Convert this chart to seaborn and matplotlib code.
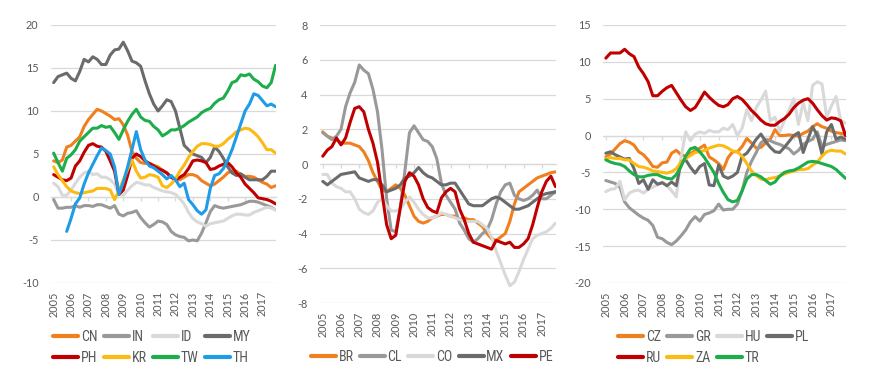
import matplotlib
matplotlib.use("Agg")
import numpy as np
import pandas as pd
import seaborn as sns
import matplotlib.pyplot as plt
from matplotlib.lines import Line2D
from matplotlib import font_manager

# ---------------- data (quarterly, starting 2005 Q1) ----------------
years = list(range(2005, 2018))

asia_names = ["CN", "IN", "ID", "MY", "PH", "KR", "TW", "TH"]
CN = [4.2, 4.0, 4.3, 5.8, 6.0, 6.5, 7.0, 8.2, 9.0, 9.6, 10.2, 10.0, 9.7, 9.4, 9.0, 9.1, 8.4, 7.2, 5.3, 4.5,
      4.0, 3.9, 3.9, 3.7, 3.5, 3.1, 2.8, 2.3, 2.0, 2.0, 2.3, 2.6, 2.6, 2.4, 1.9, 1.6, 1.3, 1.5, 1.9, 2.3,
      2.8, 3.0, 3.0, 2.6, 2.4, 2.4, 2.3, 2.0, 1.7, 1.5, 1.1, 1.3]
IN = [-0.3, -1.3, -1.3, -1.2, -1.2, -1.0, -1.2, -1.0, -1.0, -1.1, -0.9, -0.9, -1.1, -1.3, -1.0, -2.0, -2.2, -1.9, -1.8, -1.6,
      -2.4, -3.0, -3.5, -3.2, -2.8, -2.9, -3.2, -4.0, -4.4, -4.6, -4.7, -5.1, -5.0, -5.1, -4.2, -3.0, -1.7, -1.0, -1.2, -1.3,
      -1.2, -1.1, -1.0, -0.9, -0.7, -0.5, -0.5, -0.6, -0.8, -1.0, -1.2, -1.5]
ID = [1.6, 1.2, 0.2, 0.2, 0.8, 1.6, 2.3, 2.8, 3.0, 2.6, 2.7, 2.3, 2.3, 2.0, 1.5, 0.3, 0.2, 0.8, 1.3, 1.7,
      1.6, 1.4, 1.4, 1.1, 0.9, 0.7, 0.6, 0.5, 0.3, -0.2, -0.8, -1.8, -2.5, -2.9, -3.1, -3.4, -3.1, -3.0, -2.9, -2.8,
      -2.5, -2.2, -2.0, -2.0, -2.1, -2.1, -1.8, -1.6, -1.4, -1.2, -1.3, -1.5]
MY = [13.3, 14.0, 14.2, 14.4, 13.8, 13.5, 14.6, 16.0, 15.7, 16.3, 16.0, 15.4, 15.4, 16.5, 17.1, 17.2, 18.0, 17.0, 15.8, 15.6,
      15.2, 13.5, 12.0, 10.8, 10.0, 10.6, 11.3, 11.1, 10.0, 8.0, 6.0, 5.5, 5.0, 4.8, 4.6, 4.0, 4.6, 5.8, 5.3, 4.5,
      3.5, 2.8, 2.5, 2.7, 2.3, 2.0, 2.0, 2.0, 2.0, 2.4, 3.0, 3.0]
PH = [2.6, 2.3, 2.0, 1.9, 2.2, 3.6, 4.2, 5.2, 6.0, 6.2, 5.9, 5.8, 5.3, 4.2, 3.0, 0.3, 0.8, 2.5, 4.5, 5.0,
      4.7, 4.2, 3.9, 3.6, 3.3, 3.1, 2.8, 2.3, 2.0, 2.3, 2.6, 3.3, 4.2, 4.3, 4.2, 4.0, 3.2, 3.3, 3.6, 3.8,
      4.0, 3.5, 2.8, 2.3, 1.5, 1.0, 0.5, -0.1, -0.2, -0.3, -0.5, -0.8]
KR = [3.5, 2.6, 1.9, 1.2, 0.7, 0.5, 0.4, 0.5, 0.6, 0.7, 1.0, 1.0, 1.0, 0.8, -0.3, 0.7, 2.0, 3.2, 4.3, 3.0,
      2.2, 2.3, 2.6, 2.5, 2.3, 1.3, 1.1, 1.5, 2.1, 3.0, 3.7, 4.6, 5.3, 5.9, 6.2, 6.2, 6.1, 5.9, 5.9, 6.2,
      6.7, 7.1, 7.6, 7.8, 8.0, 7.9, 7.5, 7.0, 6.3, 5.5, 5.5, 5.1]
TW = [5.1, 4.0, 3.0, 4.5, 4.9, 5.5, 6.5, 7.0, 7.5, 8.0, 8.0, 8.3, 8.1, 8.2, 7.5, 6.7, 7.8, 8.8, 9.6, 10.2,
      9.3, 8.9, 8.8, 8.2, 7.8, 7.1, 7.4, 7.8, 7.8, 8.0, 8.3, 8.7, 9.0, 9.3, 9.8, 10.1, 10.3, 10.9, 11.3, 11.5,
      12.3, 13.3, 13.5, 14.2, 14.1, 14.3, 13.7, 13.4, 12.9, 12.7, 13.3, 15.3]
TH = [np.nan, np.nan, np.nan, -4.0, -2.5, -0.8, -0.1, 1.5, 2.8, 3.8, 4.8, 5.7, 5.4, 5.0, 3.5, 0.3, 1.7, 3.5, 5.5, 7.6,
      5.5, 4.3, 3.6, 3.4, 3.0, 2.6, 2.1, 2.5, 2.0, 1.2, 1.6, -0.3, -0.9, -1.6, -2.0, -1.5, 1.0, 2.5, 2.7, 3.3,
      4.3, 5.5, 7.0, 8.5, 10.0, 10.8, 12.0, 11.8, 11.2, 10.6, 10.8, 10.5]

latam_names = ["BR", "CL", "CO", "MX", "PE"]
BR = [1.85, 1.6, 1.5, 1.4, 1.2, 1.2, 1.2, 1.1, 1.0, 0.7, 0.2, -0.5, -1.0, -1.5, -1.6, -1.4, -1.2, -1.4, -1.8, -2.4,
      -3.0, -3.3, -3.4, -3.3, -3.1, -3.0, -2.9, -2.9, -3.0, -3.0, -3.2, -3.1, -3.2, -3.2, -3.4, -3.6, -4.0, -4.3, -4.4, -4.2,
      -4.0, -3.3, -2.3, -1.6, -1.4, -1.2, -1.0, -0.8, -0.7, -0.6, -0.5, -0.45]
CL = [1.8, 1.6, 1.4, 1.6, 2.0, 3.3, 4.1, 4.7, 5.7, 5.4, 5.2, 4.3, 3.0, 0.8, -2.0, -3.8, -3.9, -2.5, -0.4, 1.8,
      2.2, 1.8, 1.4, 1.3, 1.0, 0.3, -1.1, -1.8, -2.2, -2.6, -3.4, -3.8, -4.3, -4.5, -4.3, -4.0, -3.8, -3.2, -2.3, -1.6,
      -1.2, -1.1, -1.8, -2.0, -2.1, -2.0, -1.8, -1.5, -2.0, -2.0, -1.8, -1.6]
CO = [-0.6, -0.6, -1.1, -1.3, -1.4, -1.6, -1.6, -2.0, -2.6, -2.8, -2.9, -2.7, -2.2, -2.0, -2.4, -2.7, -2.7, -2.6, -2.2, -1.9,
      -2.2, -2.6, -2.9, -3.1, -3.1, -3.0, -2.8, -2.9, -3.0, -3.1, -3.2, -3.3, -3.3, -3.3, -3.3, -3.5, -3.7, -4.2, -5.0, -5.7,
      -6.4, -7.0, -6.8, -6.2, -5.5, -4.9, -4.3, -4.1, -4.0, -3.9, -3.7, -3.4]
MX = [-1.0, -1.2, -1.0, -0.8, -0.6, -0.55, -0.5, -0.45, -0.8, -0.9, -1.0, -0.9, -0.9, -1.2, -1.6, -1.5, -1.4, -1.2, -0.8, -0.7,
      -0.5, -0.2, -0.5, -0.7, -0.8, -1.0, -1.2, -1.2, -1.1, -1.1, -1.5, -1.9, -2.3, -2.4, -2.4, -2.4, -2.2, -2.0, -1.9, -2.0,
      -2.2, -2.4, -2.6, -2.6, -2.5, -2.4, -2.2, -2.0, -1.8, -1.7, -1.65, -1.6]
PE = [0.45, 0.8, 1.0, 1.5, 1.1, 1.5, 2.4, 3.2, 3.3, 3.0, 2.0, 1.2, 0.1, -1.7, -3.5, -4.3, -4.1, -2.5, -1.0, -0.5,
      -0.7, -1.2, -2.0, -2.5, -2.7, -2.8, -1.95, -1.6, -1.4, -1.6, -2.6, -3.2, -4.0, -4.5, -4.6, -4.7, -4.8, -4.9, -4.4, -4.5,
      -4.6, -4.5, -4.8, -4.8, -4.6, -4.3, -3.5, -2.5, -1.6, -1.0, -0.7, -1.3]

emea_names = ["CZ", "GR", "HU", "PL", "RU", "ZA", "TR"]
CZ = [-2.9, -2.5, -1.8, -1.1, -0.7, -0.9, -1.3, -2.2, -2.6, -3.3, -4.2, -4.3, -3.7, -3.6, -2.4, -2.0, -2.6, -2.8, -2.5, -2.0,
      -1.7, -1.3, -2.9, -3.3, -3.8, -4.6, -3.0, -2.2, -2.2, -1.5, -0.4, -1.0, -1.7, -1.6, -1.0, -0.5, 0.8, 0.0, 0.0, 0.1,
      0.0, -0.1, 0.3, 0.6, 1.2, 1.6, 1.2, 1.0, 0.6, 0.4, 0.3, 0.1]
GR = [-6.1, -6.3, -6.5, -7.0, -9.0, -9.8, -10.3, -10.8, -11.2, -11.5, -12.2, -13.8, -14.0, -14.5, -14.8, -14.3, -13.6, -12.8, -11.7, -11.0,
      -11.6, -10.7, -10.5, -10.2, -9.3, -10.1, -10.0, -10.0, -9.3, -7.5, -5.0, -3.5, -2.3, -1.0, -0.5, -0.7, -1.0, -1.2, -1.5, -1.8,
      -2.5, -2.0, -1.2, -0.8, -0.5, 0.5, -1.5, -1.2, -1.0, -0.8, -0.6, -0.7]
HU = [-7.6, -7.3, -7.2, -6.2, -8.7, -7.8, -7.5, -7.4, -7.8, -7.3, -7.0, -6.7, -6.3, -6.8, -7.5, -8.3, -3.0, 0.5, -0.7, 0.2,
      0.5, 0.3, 0.7, 0.5, 0.5, 1.0, 0.8, 1.5, 0.0, 1.0, 3.5, 2.0, 3.8, 4.8, 6.0, 2.0, 2.5, 0.5, 2.0, 3.5,
      5.0, 1.5, 4.5, 2.0, 6.8, 7.3, 7.0, 2.5, 4.0, 5.3, 2.0, 1.7]
PL = [-2.4, -2.2, -2.6, -2.9, -3.2, -3.1, -4.5, -6.5, -6.0, -7.3, -6.0, -6.6, -6.4, -6.8, -6.3, -6.8, -3.6, -3.3, -4.3, -5.1,
      -4.2, -3.8, -6.7, -6.8, -4.0, -5.5, -5.8, -5.5, -5.0, -2.8, -2.4, -1.5, -0.5, 0.2, -0.8, -1.6, -2.2, -2.3, -1.6, -0.8,
      0.0, 0.4, -2.3, -0.5, 1.2, 0.0, -2.5, 0.5, 1.5, -0.5, -0.2, -0.5]
RU = [10.5, 11.2, 11.2, 11.2, 11.7, 11.1, 10.7, 9.3, 8.4, 7.3, 5.4, 5.4, 6.0, 6.5, 6.8, 5.8, 4.8, 3.9, 3.4, 3.8,
      4.8, 5.9, 5.2, 4.6, 4.1, 3.9, 4.2, 5.0, 5.3, 4.9, 4.2, 3.4, 2.8, 2.1, 1.6, 1.4, 1.4, 1.9, 2.3, 2.9,
      3.8, 4.4, 4.8, 5.0, 4.4, 3.5, 2.7, 2.1, 2.4, 2.3, 2.0, 0.0]
ZA = [-3.1, -3.0, -3.1, -3.1, -3.3, -3.3, -3.8, -4.2, -4.3, -4.5, -4.8, -4.9, -5.0, -5.1, -4.9, -4.5, -3.6, -3.1, -2.7, -2.3,
      -2.2, -2.0, -1.7, -1.5, -1.3, -1.4, -1.7, -2.1, -2.2, -2.8, -3.8, -4.8, -5.4, -5.9, -6.0, -5.8, -5.7, -5.5, -5.2, -5.0,
      -4.8, -4.6, -4.6, -4.5, -4.0, -3.6, -2.8, -2.2, -2.0, -2.1, -2.1, -2.5]
TR = [-3.3, -3.6, -3.8, -3.9, -4.2, -4.8, -5.3, -5.6, -5.6, -5.4, -5.3, -5.3, -5.6, -5.8, -5.9, -5.3, -4.2, -2.8, -1.8, -1.6,
      -2.2, -3.0, -4.0, -5.0, -6.5, -7.7, -8.7, -9.0, -8.8, -7.5, -5.9, -5.3, -5.3, -5.6, -6.1, -6.6, -6.3, -5.5, -5.0, -4.8,
      -4.7, -4.4, -4.0, -3.6, -3.5, -3.6, -3.8, -4.0, -4.2, -4.6, -5.2, -5.8]

# ---------------- styling ----------------
ORANGE, MGRAY, LGRAY, DGRAY = "#F07F1E", "#999999", "#D9D9D9", "#6B6B6B"
RED, YELLOW, GREEN, BLUE = "#C00000", "#FCBA12", "#1DAD4A", "#1E9CE8"
asia_colors = [ORANGE, MGRAY, LGRAY, DGRAY, RED, YELLOW, GREEN, BLUE]
latam_colors = [ORANGE, MGRAY, LGRAY, DGRAY, RED]
emea_colors = [ORANGE, MGRAY, LGRAY, DGRAY, RED, YELLOW, GREEN]

sns.set_theme(style="white")
plt.rcParams["font.family"] = ["Lato", "DejaVu Sans"]
plt.rcParams["axes.unicode_minus"] = False

TXT = "#595959"
GRID = "#D9D9D9"

available = {f.name for f in font_manager.fontManager.ttflist}
narrow = None
for cand in ["Liberation Sans Narrow", "DejaVu Sans Condensed", "Roboto Condensed",
             "Open Sans Condensed", "Noto Sans Condensed"]:
    if cand in available:
        narrow = cand
        break
if narrow is not None:
    LEG_FONT = {"family": [narrow, "DejaVu Sans"], "size": 10}
else:
    LEG_FONT = {"family": ["Roboto", "DejaVu Sans"], "size": 9, "stretch": "condensed"}

fig = plt.figure(figsize=(8.77, 3.92), dpi=100)


def panel(rect, names, values, colors, ylim, ystep):
    ax = fig.add_axes(rect)
    frames = []
    for n, v in zip(names, values):
        frames.append(pd.DataFrame({"date": 2005 + 0.25 * np.arange(len(v)),
                                    "value": v, "country": n}))
    df = pd.concat(frames, ignore_index=True)
    sns.lineplot(data=df, x="date", y="value", hue="country", hue_order=names,
                 palette=colors, linewidth=2.2, estimator=None, legend=False, ax=ax)
    for s in ax.spines.values():
        s.set_visible(False)
    ax.set_ylim(*ylim)
    ax.set_xlim(2004.85, 2017.78)
    ticks = np.arange(ylim[0], ylim[1] + 0.01, ystep)
    ax.set_yticks(ticks)
    ax.set_yticklabels([f"{int(t)}" for t in ticks])
    ax.set_xticks(years)
    ax.set_xticklabels([str(y) for y in years], rotation=90)
    ax.yaxis.grid(True, color=GRID, linewidth=0.9)
    ax.xaxis.grid(False)
    ax.set_axisbelow(True)
    ax.tick_params(axis="y", length=0, pad=9, labelcolor=TXT, labelsize=7.8)
    ax.tick_params(axis="x", length=0, pad=6, labelcolor=TXT, labelsize=7.8)
    ax.set_xlabel("")
    ax.set_ylabel("")
    try:
        sec = ax.secondary_xaxis(0, transform=ax.transData)
        sec.set_xticks(years)
        sec.tick_params(axis="x", length=3, width=0.9, color=GRID, labelbottom=False)
        for k, s in sec.spines.items():
            s.set_visible(k == "bottom")
        sec.spines["bottom"].set_color(GRID)
        sec.spines["bottom"].set_linewidth(0.9)
    except Exception:
        pass
    return ax


def legend(names, colors, order, ncol, center):
    handles = [Line2D([0], [0], color=colors[i], lw=3) for i in order]
    labels = [names[i] for i in order]
    fig.legend(handles, labels, loc="center", bbox_to_anchor=center, ncol=ncol,
               frameon=False, handlelength=1.8, handletextpad=0.2, columnspacing=0.45,
               labelspacing=0.5, prop=LEG_FONT, labelcolor=TXT)


panel([0.0582, 0.2781, 0.2566, 0.6582], asia_names, [CN, IN, ID, MY, PH, KR, TW, TH],
      asia_colors, (-10, 20), 5)
panel([0.3649, 0.2270, 0.2691, 0.7092], latam_names, [BR, CL, CO, MX, PE],
      latam_colors, (-8, 8), 2)
panel([0.6876, 0.2781, 0.2771, 0.6582], emea_names, [CZ, GR, HU, PL, RU, ZA, TR],
      emea_colors, (-20, 15), 5)

legend(asia_names, asia_colors, [0, 4, 1, 5, 2, 6, 3, 7], 4, (0.173, 0.1135))
legend(latam_names, latam_colors, [0, 1, 2, 3, 4], 5, (0.4926, 0.0893))
legend(emea_names, emea_colors, [0, 4, 1, 5, 2, 6, 3], 4, (0.814, 0.1135))

fig.savefig("out.png", dpi=100)
